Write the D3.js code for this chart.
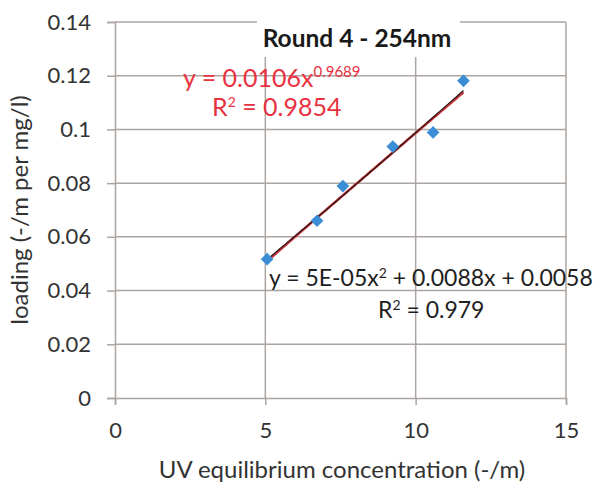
<!DOCTYPE html>
<html>
<head>
<meta charset="utf-8">
<script src="https://cdn.jsdelivr.net/npm/d3@7"></script>
<style>
  html, body { margin: 0; padding: 0; background: #ffffff; }
  svg { display: block; }
  text { font-family: Lato, "Open Sans", sans-serif; }
</style>
</head>
<body>
<svg id="chart" width="605" height="489"></svg>
<script>
// Equilibrium concentration (x) vs loading (y)
const concentration = [5.06, 6.72, 7.58, 9.24, 10.58, 11.59];
const loading = [0.0517, 0.0660, 0.0789, 0.0936, 0.0989, 0.1181];

const xTicks = [0, 5, 10, 15];
const yTicks = [0, 0.02, 0.04, 0.06, 0.08, 0.1, 0.12, 0.14];

// Trendline coefficients shown in the labels
const powerCoef = [0.0106, 0.9689];          // y = a * x^b
const polyCoef = [5e-5, 0.0088, 0.0058];      // y = a x^2 + b x + c

const titleText = "Round 4 - 254nm";
const xTitle = "UV equilibrium concentration (-/m)";
const yTitle = "loading (-/m per mg/l)";

const svg = d3.select("#chart");
const plotLeft = 115, plotRight = 566, plotTop = 22, plotBottom = 398;
const gridColor = "#aca5a1";

const x = d3.scaleLinear().domain([0, 15]).range([plotLeft, plotRight]);
const y = d3.scaleLinear().domain([0, 0.14]).range([plotBottom, plotTop]);

// Gridlines
svg.append("g").selectAll("line").data(yTicks.filter(d => d > 0)).join("line")
  .attr("x1", plotLeft).attr("x2", plotRight)
  .attr("y1", d => y(d)).attr("y2", d => y(d))
  .attr("stroke", gridColor).attr("stroke-width", 1.5);
svg.append("g").selectAll("line").data(xTicks.filter(d => d > 0)).join("line")
  .attr("x1", d => x(d)).attr("x2", d => x(d))
  .attr("y1", plotTop).attr("y2", plotBottom)
  .attr("stroke", gridColor).attr("stroke-width", 1.5);

// Axes
const yAxis = d3.axisLeft(y).tickValues(yTicks).tickSize(8).tickPadding(16)
  .tickFormat(d => d === 0 ? "0" : String(+d.toFixed(2)));
const xAxis = d3.axisBottom(x).tickValues(xTicks).tickSize(7).tickPadding(17)
  .tickFormat(d3.format("d"));

const gy = svg.append("g").attr("transform", `translate(${plotLeft},0)`).call(yAxis);
const gx = svg.append("g").attr("transform", `translate(0,${plotBottom})`).call(xAxis);
[gx, gy].forEach(g => {
  g.select(".domain").attr("stroke", gridColor).attr("stroke-width", 1.5);
  g.selectAll(".tick line").attr("stroke", gridColor).attr("stroke-width", 1.5);
  g.selectAll(".tick text").attr("fill", "#333333")
    .style("font-family", "Lato, sans-serif").style("font-size", "22px");
});

// Title box and title
svg.append("rect").attr("x", 257).attr("y", 0).attr("width", 203).attr("height", 57)
  .attr("fill", "#ffffff");
svg.append("text").attr("x", 357).attr("y", 47).attr("text-anchor", "middle")
  .attr("font-size", 24.5).attr("font-weight", "bold").attr("fill", "#1a1a1a")
  .text(titleText);

// Trendlines
const xs = d3.range(0, 101).map(i => d3.min(concentration) + (d3.max(concentration) - d3.min(concentration)) * i / 100);
const powerLine = d3.line().x(d => x(d)).y(d => y(powerCoef[0] * Math.pow(d, powerCoef[1])));
const polyLine = d3.line().x(d => x(d)).y(d => y(polyCoef[0] * d * d + polyCoef[1] * d + polyCoef[2]));
svg.append("path").attr("d", powerLine(xs)).attr("fill", "none")
  .attr("stroke", "#c8383c").attr("stroke-width", 2.6);
svg.append("path").attr("d", polyLine(xs)).attr("fill", "none")
  .attr("stroke", "#2a1616").attr("stroke-width", 1.2);

// Data markers
svg.append("g").selectAll("path").data(concentration.map((c, i) => [c, loading[i]])).join("path")
  .attr("transform", d => `translate(${x(d[0])},${y(d[1])}) rotate(45)`)
  .attr("d", d3.symbol(d3.symbolSquare, 81)())
  .attr("fill", "#3b8ed6");

// Power-fit label
const red = "#e8323f";
const pl = svg.append("text").attr("x", 183).attr("y", 87).attr("font-size", 25).attr("fill", red);
pl.append("tspan").text("y = 0.0106x");
pl.append("tspan").attr("dy", -10).attr("font-size", 15).text("0.9689");
const pr = svg.append("text").attr("x", 212).attr("y", 116).attr("font-size", 25).attr("fill", red);
pr.append("tspan").text("R");
pr.append("tspan").attr("dy", -9).attr("font-size", 14).text("2");
pr.append("tspan").attr("dy", 9).text(" = 0.9854");

// Polynomial-fit label
const dark = "#1e1e1e";
const ql = svg.append("text").attr("x", 269).attr("y", 286).attr("font-size", 23).attr("fill", dark);
ql.append("tspan").text("y = 5E-05x");
ql.append("tspan").attr("dy", -8).attr("font-size", 14).text("2");
ql.append("tspan").attr("dy", 8).text(" + 0.0088x + 0.0058");
const qr = svg.append("text").attr("x", 378).attr("y", 318).attr("font-size", 23).attr("fill", dark);
qr.append("tspan").text("R");
qr.append("tspan").attr("dy", -8).attr("font-size", 14).text("2");
qr.append("tspan").attr("dy", 8).text(" = 0.979");

// Axis titles
svg.append("text").attr("x", 342).attr("y", 478).attr("text-anchor", "middle")
  .attr("font-size", 24).attr("fill", "#333333").text(xTitle);
svg.append("text").attr("transform", "translate(28,210) rotate(-90)").attr("text-anchor", "middle")
  .attr("font-size", 24).attr("fill", "#333333").text(yTitle);
</script>
</body>
</html>
